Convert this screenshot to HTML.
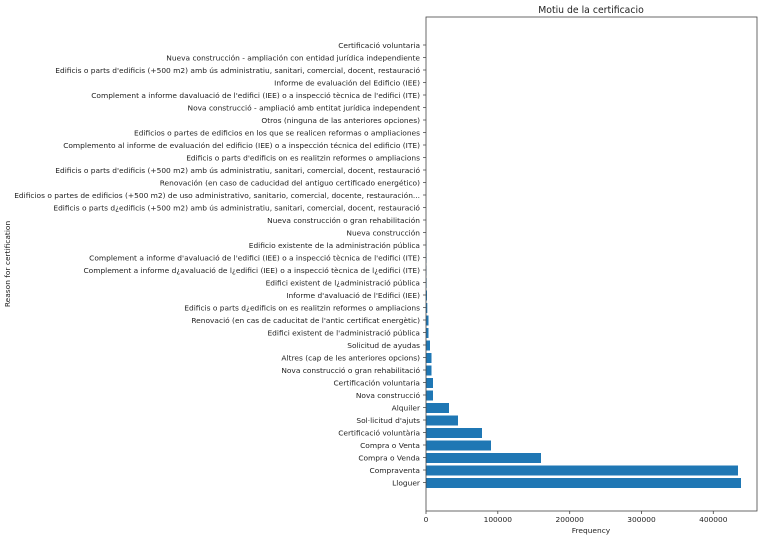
<!DOCTYPE html>
<html><head><meta charset="utf-8"><style>
body{margin:0;background:#fff;}
svg{display:block;font-family:"DejaVu Sans","Liberation Sans",sans-serif;}
</style></head><body>
<svg width="762" height="539" viewBox="0 0 762 539" xmlns="http://www.w3.org/2000/svg">
<rect width="762" height="539" fill="#fff"/>
<text x="591" y="13" font-size="9.3" text-anchor="middle" fill="#222">Motiu de la certificacio</text>
<g fill="#1f77b4">
<rect x="426" y="478" width="315" height="10"/>
<rect x="426" y="465.5" width="312" height="10"/>
<rect x="426" y="453" width="115" height="10"/>
<rect x="426" y="440.5" width="65" height="10"/>
<rect x="426" y="428" width="56" height="10"/>
<rect x="426" y="415.5" width="32" height="10"/>
<rect x="426" y="403" width="23" height="10"/>
<rect x="426" y="390.5" width="7" height="10"/>
<rect x="426" y="378" width="7" height="10"/>
<rect x="426" y="365.5" width="5.5" height="10"/>
<rect x="426" y="353" width="5.5" height="10"/>
<rect x="426" y="340.5" width="4" height="10"/>
<rect x="426" y="328" width="2.5" height="10"/>
<rect x="426" y="315.5" width="2.5" height="10"/>
<rect x="426" y="303" width="1.3" height="10"/>
<rect x="426" y="290.5" width="1" height="10"/>
<rect x="426" y="278" width="0.6" height="10"/>
<rect x="426" y="265.5" width="0.5" height="10"/>
<rect x="426" y="253" width="0.5" height="10"/>
<rect x="426" y="240.5" width="0.4" height="10"/>
</g>
<rect x="426" y="17" width="331" height="494" fill="none" stroke="#444" stroke-width="0.8"/>
<g font-size="7.45" fill="#222" text-anchor="end">
<text x="420" y="48">Certificació voluntaria</text>
<text x="420" y="60.5">Nueva construcción - ampliación con entidad jurídica independiente</text>
<text x="420" y="73">Edificis o parts d'edificis (+500 m2) amb ús administratiu, sanitari, comercial, docent, restauració</text>
<text x="420" y="85.5">Informe de evaluación del Edificio (IEE)</text>
<text x="420" y="98">Complement a informe davaluació de l'edifici (IEE) o a inspecció tècnica de l'edifici (ITE)</text>
<text x="420" y="110.5">Nova construcció - ampliació amb entitat jurídica independent</text>
<text x="420" y="123">Otros (ninguna de las anteriores opciones)</text>
<text x="420" y="135.5">Edificios o partes de edificios en los que se realicen reformas o ampliaciones</text>
<text x="420" y="148">Complemento al informe de evaluación del edificio (IEE) o a inspección técnica del edificio (ITE)</text>
<text x="420" y="160.5">Edificis o parts d'edificis on es realitzin reformes o ampliacions</text>
<text x="420" y="173">Edificis o parts d'edificis (+500 m2) amb ús administratiu, sanitari, comercial, docent, restauració</text>
<text x="420" y="185.5">Renovación (en caso de caducidad del antiguo certificado energético)</text>
<text x="420" y="198">Edificios o partes de edificios (+500 m2) de uso administrativo, sanitario, comercial, docente, restauración...</text>
<text x="420" y="210.5">Edificis o parts d¿edificis (+500 m2) amb ús administratiu, sanitari, comercial, docent, restauració</text>
<text x="420" y="223">Nueva construcción  o gran rehabilitación</text>
<text x="420" y="235.5">Nueva construcción</text>
<text x="420" y="248">Edificio existente de la administración pública</text>
<text x="420" y="260.5">Complement a informe d'avaluació de l'edifici (IEE) o a inspecció tècnica de l'edifici (ITE)</text>
<text x="420" y="273">Complement a informe d¿avaluació de l¿edifici (IEE) o a inspecció tècnica de l¿edifici (ITE)</text>
<text x="420" y="285.5">Edifici existent de l¿administració pública</text>
<text x="420" y="298">Informe d'avaluació de l'Edifici (IEE)</text>
<text x="420" y="310.5">Edificis o parts d¿edificis on es realitzin reformes o ampliacions</text>
<text x="420" y="323">Renovació (en cas de caducitat de l'antic certificat energètic)</text>
<text x="420" y="335.5">Edifici existent de l'administració pública</text>
<text x="420" y="348">Solicitud de ayudas</text>
<text x="420" y="360.5">Altres (cap de les anteriores opcions)</text>
<text x="420" y="373">Nova construcció o gran rehabilitació</text>
<text x="420" y="385.5">Certificación voluntaria</text>
<text x="420" y="398">Nova construcció</text>
<text x="420" y="410.5">Alquiler</text>
<text x="420" y="423">Sol·licitud d'ajuts</text>
<text x="420" y="435.5">Certificació voluntària</text>
<text x="420" y="448">Compra o Venta</text>
<text x="420" y="460.5">Compra o Venda</text>
<text x="420" y="473">Compraventa</text>
<text x="420" y="485.5">Lloguer</text>
</g>
<g stroke="#444" stroke-width="0.8">
<path d="M423 45h3M423 57.5h3M423 70h3M423 82.5h3M423 95h3M423 107.5h3M423 120h3M423 132.5h3M423 145h3M423 157.5h3M423 170h3M423 182.5h3M423 195h3M423 207.5h3M423 220h3M423 232.5h3M423 245h3M423 257.5h3M423 270h3M423 282.5h3M423 295h3M423 307.5h3M423 320h3M423 332.5h3M423 345h3M423 357.5h3M423 370h3M423 382.5h3M423 395h3M423 407.5h3M423 420h3M423 432.5h3M423 445h3M423 457.5h3M423 470h3M423 482.5h3"/>
<path d="M426 511v3M497.8 511v3M569.7 511v3M641.5 511v3M713.3 511v3"/>
</g>
<g font-size="7.45" fill="#222" text-anchor="middle">
<text x="426" y="522">0</text>
<text x="497.8" y="522">100000</text>
<text x="569.7" y="522">200000</text>
<text x="641.5" y="522">300000</text>
<text x="713.3" y="522">400000</text>
<text x="591" y="533">Frequency</text>
<text transform="translate(10,264) rotate(-90)">Reason for certification</text>
</g>
</svg>
</body></html>
